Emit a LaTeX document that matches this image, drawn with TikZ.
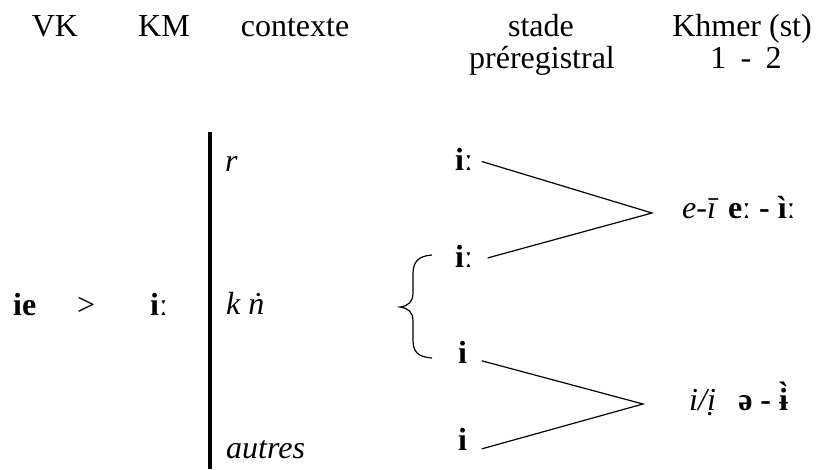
\documentclass[tikz,border=0pt]{standalone}
\usepackage{fontspec}
\setmainfont{Liberation Serif}
\usepackage{tikz}

\begin{document}
\begin{tikzpicture}[
  x=1pt, y=-1pt,
  every node/.style={inner sep=0pt, font=\fontsize{32}{38}\selectfont},
  head/.style={anchor=base},
  item/.style={anchor=base west},
  ipa/.style={anchor=base west, font=\fontsize{32}{38}\selectfont\bfseries},
  ctx/.style={anchor=base west, font=\fontsize{32}{38}\selectfont\itshape},
  branch/.style={line width=1.2pt},
  bar/.style={line width=3.5pt}
]
\useasboundingbox (0,0) rectangle (816,469);

\node[head] (vk) at (55,36) {VK};
\node[head] (km) at (164,36) {KM};
\node[head] (ctxhead) at (295,36) {contexte};
\node[head] (stade) at (541,36) {stade};
\node[head] (khmer) at (742,36) {Khmer (st)};
\node[head] (prereg) at (542,68) {préregistral};
\node[head] (regs) at (746,68) {1\hspace{0.45em}-\hspace{0.45em}2};

\node[ipa] (vkie) at (13,315) {ie};
\node[item] (gt) at (77,315) {>};
\node[ipa] (kmi) at (150,315) {iː};

\coordinate (bartop) at (210,132);
\coordinate (barbot) at (210,469);
\draw[bar] (bartop) -- (barbot);

\node[ctx] (cr) at (225,171) {r};
\node[ctx] (ck) at (226,314) {k ṅ};
\node[ctx] (cautres) at (226,458) {autres};

\node[ipa] (pre1) at (455,170) {iː};
\node[ipa] (pre2) at (455,267) {iː};
\node[ipa] (pre3) at (458,363) {i};
\node[ipa] (pre4) at (458,450) {i};

\coordinate (v1) at (652,213);
\coordinate (v2) at (643,404);

\node[item] (out1) at (682,218) {\textit{e-ī}\hspace{0.3em}\textbf{eː - ìː}};
\node[item] (out2) at (689,410) {\textit{i/ị}\hspace{0.7em}\textbf{ə - ɨ̀}};

\draw[branch, shorten <=9pt, shorten >=15pt] (pre1.east) -- (v1) -- ([yshift=-6pt]pre2.east);
\draw[branch, shorten <=15pt, shorten >=15pt] ([yshift=-5pt]pre3.east) -- (v2) -- ([yshift=-14pt]pre4.east);

\coordinate (brtop) at (432,255);
\coordinate (brtip) at (400,307);
\coordinate (brbot) at (432,358);
\draw[branch] (brtop) .. controls (418,256) and (413,262) .. (413,274) -- (413,293)
  .. controls (413,302) and (408,306) .. (brtip)
  .. controls (408,308) and (413,312) .. (413,321) -- (413,340)
  .. controls (413,352) and (418,357) .. (brbot);
\end{tikzpicture}
\end{document}
